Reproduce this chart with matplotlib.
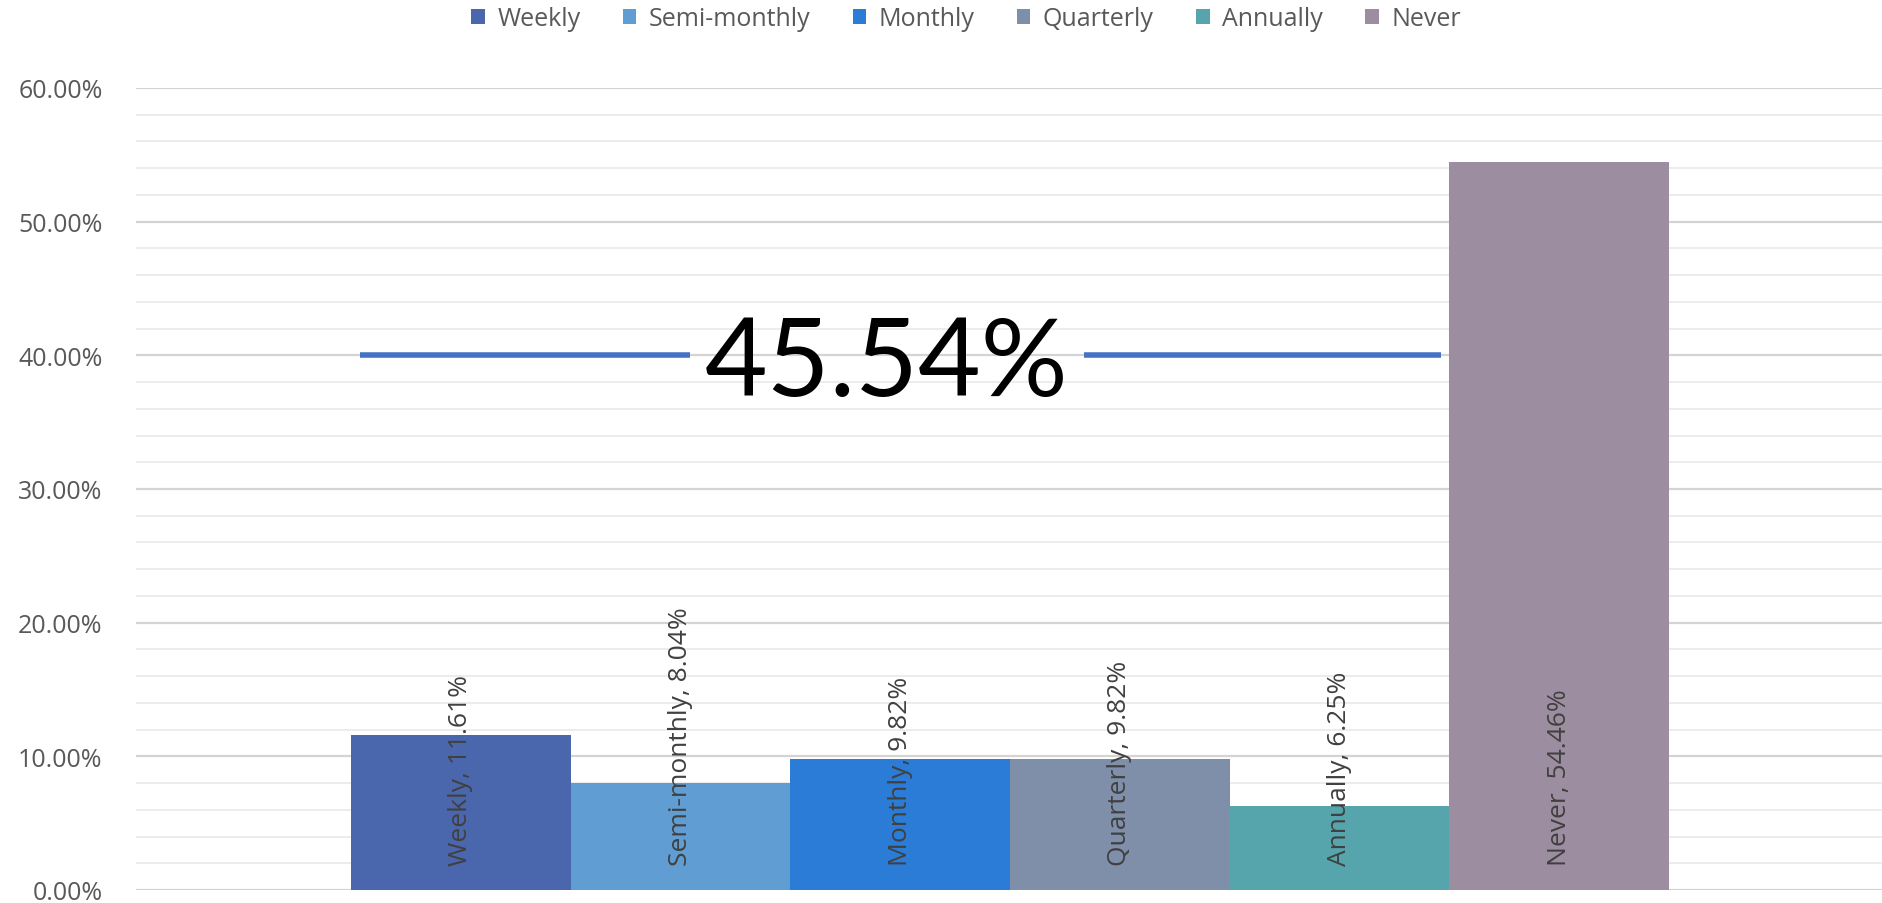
import matplotlib
matplotlib.use("Agg")
import matplotlib.pyplot as plt
from matplotlib.patches import Patch
import numpy as np

categories = ["Weekly", "Semi-monthly", "Monthly", "Quarterly", "Annually", "Never"]
values = [11.61, 8.04, 9.82, 9.82, 6.25, 54.46]
colors = ["#4a66ac", "#5f9dd3", "#2b7cd6", "#7f8faa", "#56a5ad", "#9c8ea0"]
yticks = [0, 10, 20, 30, 40, 50, 60]
ytick_labels = ["0.00%", "10.00%", "20.00%", "30.00%", "40.00%", "50.00%", "60.00%"]
minor_ticks = list(range(0, 61, 2))
callout_value = "45.54%"
callout_y = 40

plt.rcParams['font.family'] = ['Open Sans', 'DejaVu Sans']

fig = plt.figure(figsize=(18.83, 9.04), dpi=100)
ax = fig.add_axes([136/1883, 1 - 891/904, 1 - 136/1883, (891-89)/904])

x = np.arange(len(categories))
ax.bar(x, values, width=1.0, color=colors, zorder=3)

for xi, cat, v in zip(x, categories, values):
    ax.text(xi, 1.9, f"{cat}, {v:.2f}%", rotation=90, ha='center', va='bottom',
            fontsize=19, color='#404040', zorder=4)

ax.set_xlim(-1.479, 6.474)
ax.set_ylim(0, 60)
ax.set_yticks(yticks)
ax.set_yticklabels(ytick_labels, fontsize=18, color='#595959')
ax.set_yticks(minor_ticks, minor=True)
ax.tick_params(axis='y', which='both', length=0, pad=24)
ax.set_xticks([])
ax.grid(axis='y', which='major', color='#d4d4d4', linewidth=1.6, zorder=0)
ax.grid(axis='y', which='minor', color='#ececec', linewidth=1.4, zorder=0)
for s in ax.spines.values():
    s.set_visible(False)

# callout
ax.plot([-0.459, 1.043], [callout_y, callout_y], color='#4472c4', lw=4, zorder=5, solid_capstyle='butt')
ax.plot([2.836, 4.461], [callout_y, callout_y], color='#4472c4', lw=4, zorder=5, solid_capstyle='butt')
ax.text(1.94, callout_y, callout_value, ha='center', va='center_baseline', fontsize=78,
        family=['Lato', 'DejaVu Sans'], color='black', zorder=6)

handles = [Patch(facecolor=c, edgecolor='none') for c in colors]
fig.legend(handles, categories, loc='center', bbox_to_anchor=(966/1883, 1 - 20/904), ncol=6,
           frameon=False, fontsize=18, handlelength=0.55, handleheight=0.55, handletextpad=0.5,
           columnspacing=1.68, labelcolor='#595959')

fig.savefig("out.png", dpi=100, facecolor='white')
